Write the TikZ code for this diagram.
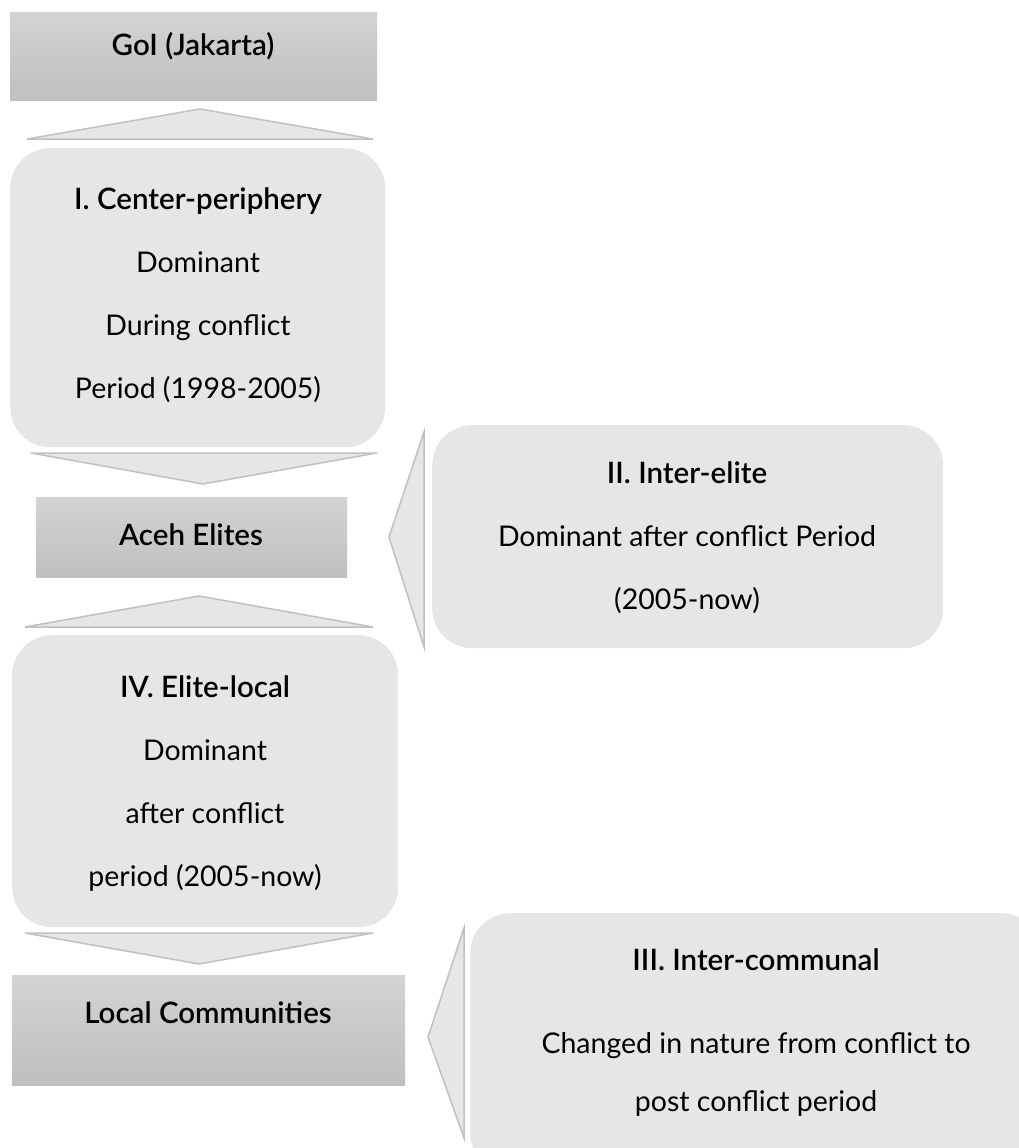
\documentclass[tikz,border=0pt]{standalone}
\usepackage{fontspec}
\setmainfont{Lato}[BoldFont={Lato Semibold}]
\usepackage{xcolor}
\definecolor{tiertop}{RGB}{211, 211, 211}
\definecolor{tierbot}{RGB}{191, 191, 191}
\definecolor{phasefill}{RGB}{230, 230, 230}
\definecolor{tridraw}{RGB}{192, 192, 192}
\usetikzlibrary{positioning}

\begin{document}
\begin{tikzpicture}[x=1pt, y=-1pt,
  tierbox/.style={rectangle, top color=tiertop, bottom color=tierbot, inner sep=0pt, anchor=north west},
  phasebox/.style={rectangle, rounded corners=40pt, fill=phasefill, inner sep=0pt, anchor=north west},
  linktri/.style={draw=tridraw, fill=phasefill, line width=1.5pt, line join=miter},
  headtext/.style={font=\fontsize{29.5}{29.5}\selectfont\bfseries, inner sep=0pt},
  boxtext/.style={font=\fontsize{28.5}{63}\selectfont, align=center, inner sep=0pt}]

  \path[use as bounding box, clip] (0,0) rectangle (1019,1148);

  % actor tiers
  \node[tierbox, minimum width=367pt, minimum height=88pt] (goi) at (10,12) {};
  \node[tierbox, minimum width=311pt, minimum height=80pt] (elites) at (36,497) {};
  \node[tierbox, minimum width=393pt, minimum height=110pt] (locals) at (12,975) {};

  \node[headtext] (goitxt) at (193,46) {GoI (Jakarta)};
  \node[headtext] (elitestxt) at (191,535) {Aceh Elites};
  \node[headtext] (localstxt) at (208,1013) {Local Communities};

  % conflict types
  \node[phasebox, minimum width=375pt, minimum height=299pt] (centre) at (10,148) {};
  \node[phasebox, minimum width=511pt, minimum height=223pt] (interelite) at (432,425) {};
  \node[phasebox, minimum width=386pt, minimum height=292pt] (elitelocal) at (12,635) {};
  \node[phasebox, minimum width=572pt, minimum height=260pt] (intercomm) at (470,913) {};

  \node[boxtext] (centretxt) at (198,295)
    {{\fontsize{29.5}{63}\selectfont\bfseries I. Center-periphery}\\Dominant\\During conflict\\Period (1998-2005)};
  \node[boxtext] (interelitetxt) at (687,538)
    {{\fontsize{29.5}{63}\selectfont\bfseries II. Inter-elite}\\Dominant after conflict Period\\(2005-now)};
  \node[boxtext] (elitelocaltxt) at (205,784)
    {{\fontsize{29.5}{63}\selectfont\bfseries IV. Elite-local}\\Dominant\\after conflict\\period (2005-now)};
  \node[boxtext, font=\fontsize{28.5}{58}\selectfont] (intercommtxt) at (756,1033)
    {{\fontsize{29.5}{58}\selectfont\bfseries III. Inter-communal}\\[25pt]Changed in nature from conflict to\\post conflict period};

  % flat arrows between the tiers
  \draw[linktri] (27,139) -- (200,109) -- (373,139) -- cycle;
  \draw[linktri] (31,453) -- (377,453) -- (203,484) -- cycle;
  \draw[linktri] (25,627) -- (199,596) -- (373,627) -- cycle;
  \draw[linktri] (25,933) -- (373,933) -- (199,964) -- cycle;

  % side arrows
  \draw[linktri] (424,432) -- (424,647) -- (389,537) -- cycle;
  \draw[linktri] (464,928) -- (464,1138) -- (428,1037) -- cycle;

\end{tikzpicture}
\end{document}
